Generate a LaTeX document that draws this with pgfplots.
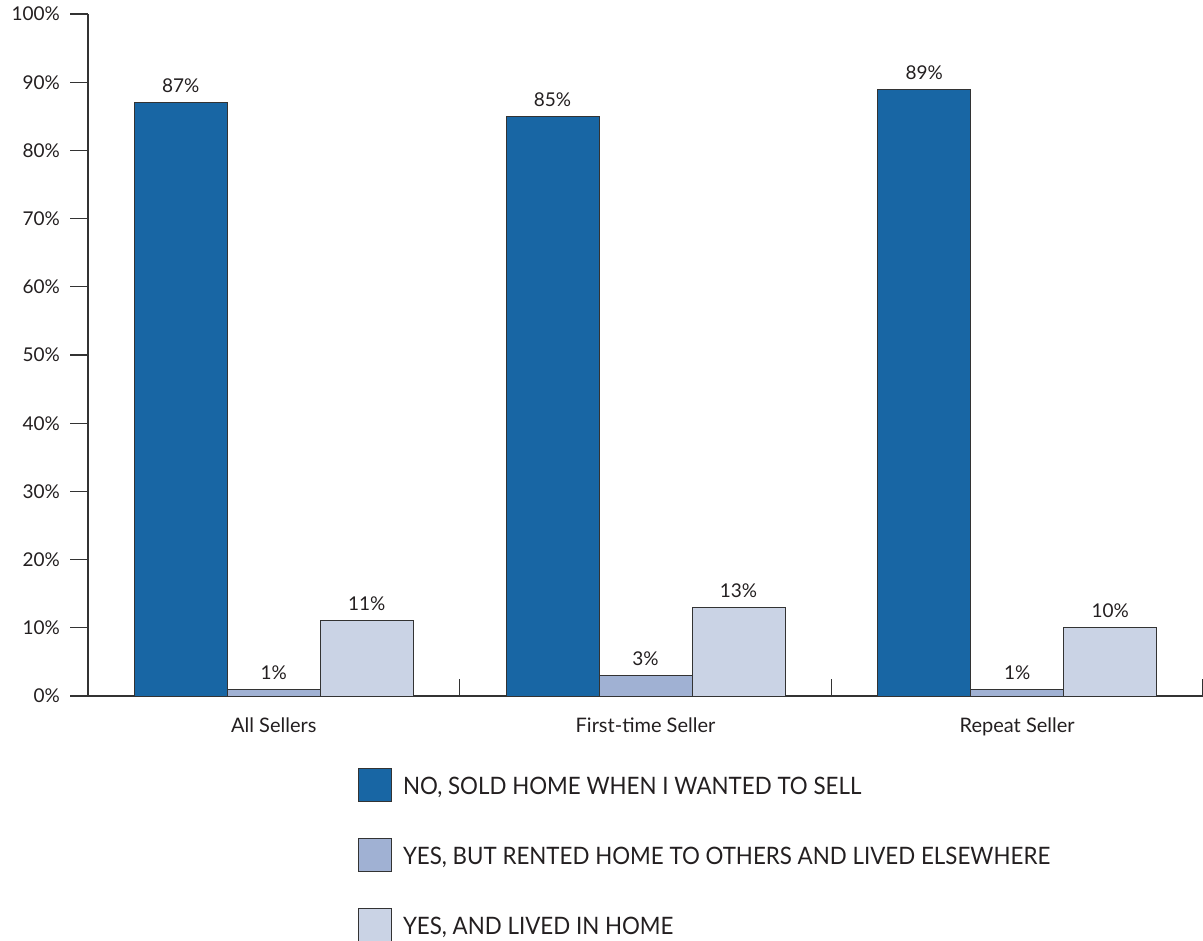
\documentclass[border=0pt]{standalone}
\usepackage{fontspec}
\setmainfont{Lato}
\newfontfamily\legfont[FakeStretch=0.93]{Lato}
\usepackage{pgfplots}
\pgfplotsset{compat=1.18}
\definecolor{cA}{HTML}{1866A4}
\definecolor{cB}{HTML}{A0B1D3}
\definecolor{cC}{HTML}{CAD3E5}
\definecolor{txt}{HTML}{231F20}
\definecolor{ln}{HTML}{333333}
\begin{document}
\begin{tikzpicture}
\begin{axis}[
  name=ax,
  width=1115pt, height=682pt, scale only axis,
  xmin=0, xmax=3, ymin=0, ymax=100,
  clip=false,
  /pgf/number format/assume math mode=true,
  axis lines=left,
  axis line style={-, draw=ln, line width=1.2pt},
  tick align=outside, major tick length=18pt,
  tick style={draw=ln, line width=1.2pt},
  ytick={0,10,...,100},
  yticklabel={\pgfmathprintnumber{\tick}\%},
  yticklabel style={font=\fontsize{19}{22}\selectfont, text=txt, inner sep=0pt, xshift=-10pt},
  xtick={1,2,3}, xticklabels={},
  x tick style={yshift=17pt},
  extra x ticks={0.5,1.5,2.5},
  extra x tick labels={All Sellers, First-time Seller, Repeat Seller},
  extra x tick style={major tick length=0pt, tick style={draw=none},
     xticklabel style={font=\fontsize{20}{22}\selectfont, text=txt, anchor=base, inner sep=0pt, yshift=-36pt}},
  ybar=0pt, bar width=93pt,
  nodes near coords={\pgfmathprintnumber{\pgfplotspointmeta}\%},
  nodes near coords style={font=\fontsize{19}{22}\selectfont, text=txt, anchor=base, inner sep=0pt, yshift=10pt},
  legend cell align=left,
  legend image code/.code={\draw[#1, draw=ln, line width=1pt] (0pt,-7pt) rectangle (33pt,26pt);},
  legend style={at={(axis description cs:0,0)}, anchor=north west, xshift=270pt, yshift=-72pt,
     draw=none, fill=none, inner sep=0pt, outer sep=0pt, row sep=36pt, column sep=11pt,
     font=\legfont\fontsize{24}{26}\selectfont,
     nodes={inner sep=0pt, text=txt, anchor=base west}},
]
\addplot[fill=cA, draw=ln, line width=1pt] coordinates {(0.5,87) (1.5,85) (2.5,89)};
\addplot[fill=cB, draw=ln, line width=1pt] coordinates {(0.5,1) (1.5,3) (2.5,1)};
\addplot[fill=cC, draw=ln, line width=1pt] coordinates {(0.5,11) (1.5,13) (2.5,10)};
\legend{{NO, SOLD HOME WHEN I WANTED TO SELL}, {YES, BUT RENTED HOME TO OTHERS AND LIVED ELSEWHERE}, {YES, AND LIVED IN HOME}}
\end{axis}
\pgfresetboundingbox
\path ([xshift=-88pt,yshift=-244pt]ax.south west) rectangle ([yshift=14pt]ax.north east);
\end{tikzpicture}
\end{document}
